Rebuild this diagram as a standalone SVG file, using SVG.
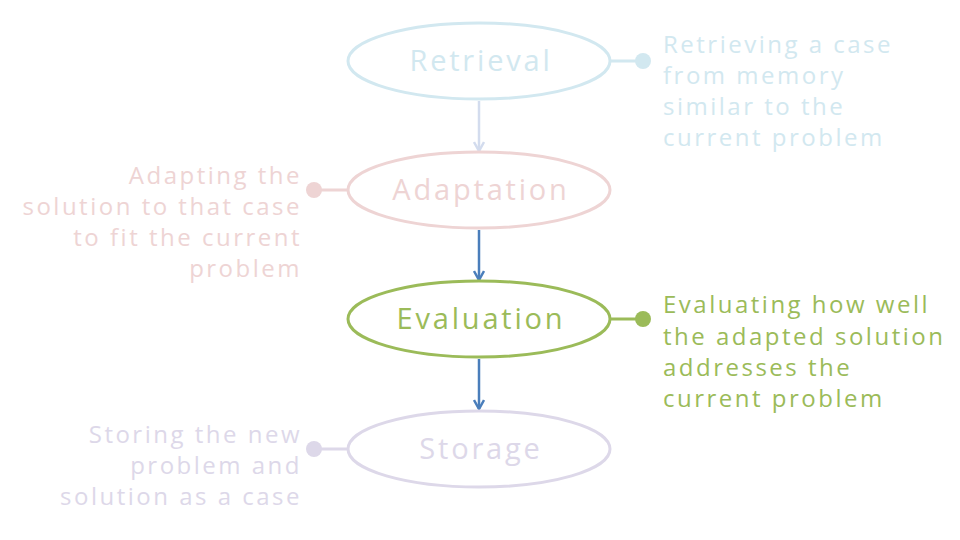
<svg xmlns="http://www.w3.org/2000/svg" width="960" height="540" viewBox="0 0 960 540">
<defs>
<style>
.node{fill:#fff;stroke-width:3}
.lbl{font-family:"Open Sans","DejaVu Sans",sans-serif;font-size:29px;text-anchor:middle;letter-spacing:2.8px}
.desc{font-family:"Open Sans","DejaVu Sans",sans-serif;font-size:24px;letter-spacing:2.5px}
.r{text-anchor:end}
.conn{stroke-width:2.5;fill:none}
</style>
<marker id="ahFaint" viewBox="0 0 12 12" refX="10" refY="6" markerWidth="12" markerHeight="12" markerUnits="userSpaceOnUse" orient="auto"><path d="M1,1 L10,6 L1,11" fill="none" stroke="#D3DCEE" stroke-width="2.5"/></marker>
<marker id="ahBlue" viewBox="0 0 12 12" refX="10" refY="6" markerWidth="12" markerHeight="12" markerUnits="userSpaceOnUse" orient="auto"><path d="M1,1 L10,6 L1,11" fill="none" stroke="#4A7EBB" stroke-width="2.5"/></marker>
</defs>
<rect width="960" height="540" fill="#fff"/>
<g id="connectors">
<line class="conn" x1="479" y1="101" x2="479" y2="151" stroke="#D3DCEE" marker-end="url(#ahFaint)"/>
<line class="conn" x1="479" y1="230" x2="479" y2="280" stroke="#4A7EBB" marker-end="url(#ahBlue)"/>
<line class="conn" x1="479" y1="359" x2="479" y2="409" stroke="#4A7EBB" marker-end="url(#ahBlue)"/>
</g>
<g id="retrieval">
<ellipse class="node" cx="479" cy="61" rx="131" ry="38" stroke="#D2E8F0"/>
<text class="lbl" x="481" y="71" fill="#D2E8F0">Retrieval</text>
<line x1="610" y1="61" x2="643" y2="61" stroke="#D2E8F0" stroke-width="3"/>
<circle cx="643" cy="61" r="8" fill="#D2E8F0"/>
<text class="desc" fill="#D2E8F0"><tspan x="663" y="53">Retrieving a case</tspan><tspan x="663" y="84">from memory</tspan><tspan x="663" y="115">similar to the</tspan><tspan x="663" y="146">current problem</tspan></text>
</g>
<g id="adaptation">
<ellipse class="node" cx="479" cy="190" rx="131" ry="38" stroke="#EED4D4"/>
<text class="lbl" x="481" y="200" fill="#EED4D4">Adaptation</text>
<line x1="314" y1="190" x2="348" y2="190" stroke="#EED4D4" stroke-width="3"/>
<circle cx="314" cy="190" r="8" fill="#EED4D4"/>
<text class="desc r" fill="#EED4D4"><tspan x="302" y="184">Adapting the</tspan><tspan x="302" y="215">solution to that case</tspan><tspan x="302" y="246">to fit the current</tspan><tspan x="302" y="277">problem</tspan></text>
</g>
<g id="evaluation">
<ellipse class="node" cx="479" cy="319" rx="131" ry="38" stroke="#9BBB59"/>
<text class="lbl" x="481" y="329" fill="#9BBB59">Evaluation</text>
<line x1="610" y1="319" x2="643" y2="319" stroke="#9BBB59" stroke-width="3"/>
<circle cx="643" cy="319" r="8" fill="#9BBB59"/>
<text class="desc" fill="#9BBB59"><tspan x="663" y="313">Evaluating how well</tspan><tspan x="663" y="345">the adapted solution</tspan><tspan x="663" y="376">addresses the</tspan><tspan x="663" y="407">current problem</tspan></text>
</g>
<g id="storage">
<ellipse class="node" cx="479" cy="449" rx="131" ry="38" stroke="#DDD8E9"/>
<text class="lbl" x="481" y="459" fill="#DDD8E9">Storage</text>
<line x1="314" y1="449" x2="348" y2="449" stroke="#DDD8E9" stroke-width="3"/>
<circle cx="314" cy="449" r="8" fill="#DDD8E9"/>
<text class="desc r" fill="#DDD8E9"><tspan x="302" y="443">Storing the new</tspan><tspan x="302" y="474">problem and</tspan><tspan x="302" y="505">solution as a case</tspan></text>
</g>
</svg>
